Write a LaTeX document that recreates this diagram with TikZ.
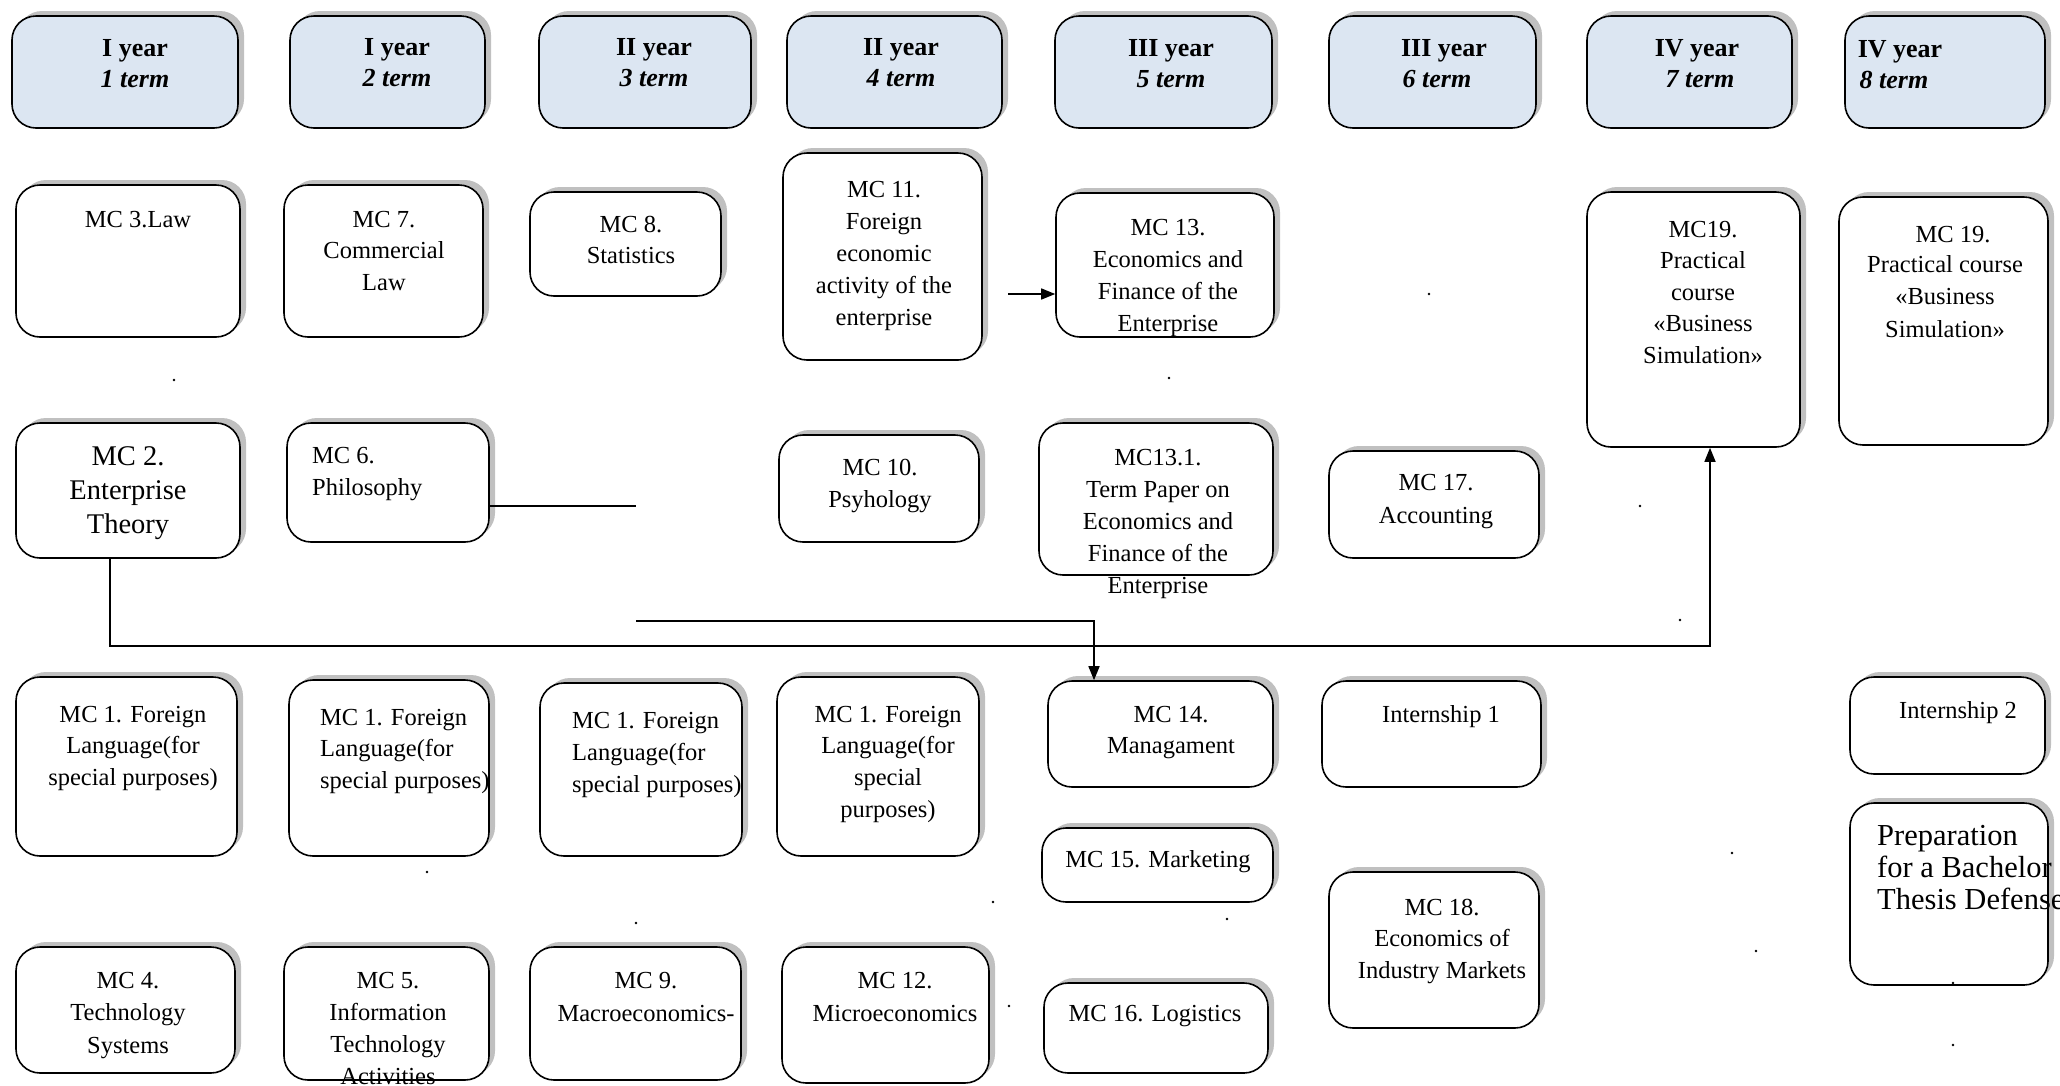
\documentclass[tikz,border=0pt]{standalone}
\usepackage{fontspec}
\setmainfont{Liberation Serif}
\usetikzlibrary{shadows,arrows.meta}
\definecolor{hdrblue}{RGB}{220,230,242}
\definecolor{shadowgray}{RGB}{192,192,192}
\newcommand\bodyfont{\fontsize{24.5}{30}\selectfont}
\newcommand\bigbodyfont{\fontsize{28.5}{34}\selectfont}
\newcommand\prepfont{\fontsize{30.5}{34}\selectfont}
\newcommand\hdrfont{\fontsize{26}{31}\selectfont\bfseries}
% box: style, name, x1, x2, y1, y2
\newcommand\bx[6]{\node[#1, minimum width={#4-#3}, minimum height={#6-#5}] (#2) at ({(#3+#4)/2},{(#5+#6)/2}) {};}
% text lines: [style], name, anchor, x, first baseline y, spacing, list
\newcommand\txtlines[7][]{\foreach \l [count=\i] in {#7} {\node[lbl,#1,anchor=#3] (#2-\i) at (#4,{#5+(\i-1)*#6}) {\l};}}
\begin{document}
\begin{tikzpicture}[x=1pt,y=-1pt,
  box/.style={draw=black, line width=1.6pt, rounded corners=24pt, fill=white, inner sep=0pt,
    drop shadow={shadow xshift=6pt, shadow yshift=5pt, fill=shadowgray, opacity=1}},
  hbox/.style={box, fill=hdrblue},
  lbl/.style={font=\bodyfont, inner sep=0pt},
  hlbl/.style={font=\hdrfont, inner sep=0pt, anchor=base},
  conn/.style={line width=1.5pt},
  arr/.style={conn, -{Triangle[length=14pt,width=11pt]}}]
\useasboundingbox[fill=white] (0,0) rectangle (2060,1085);

% header boxes
\bx{hbox}{h1}{12}{238}{16}{128}
\bx{hbox}{h2}{290}{485}{16}{128}
\bx{hbox}{h3}{539}{751}{16}{128}
\bx{hbox}{h4}{787}{1002}{16}{128}
\bx{hbox}{h5}{1055}{1272}{16}{128}
\bx{hbox}{h6}{1329}{1536}{16}{128}
\bx{hbox}{h7}{1587}{1792}{16}{128}
\bx{hbox}{h8}{1845}{2045}{16}{128}

% course boxes
\bx{box}{mc3}{16}{240}{185}{337}
\bx{box}{mc7}{284}{483}{185}{337}
\bx{box}{mc8}{530}{721}{192}{296}
\bx{box}{mc11}{783}{982}{153}{360}
\bx{box}{mc13}{1056}{1274}{193}{337}
\bx{box}{mc19a}{1587}{1800}{192}{447}
\bx{box}{mc19b}{1839}{2048}{197}{445}
\bx{box}{mc2}{16}{240}{423}{558}
\bx{box}{mc6}{287}{489}{423}{542}
\bx{box}{mc10}{779}{979}{435}{542}
\bx{box}{mc131}{1039}{1273}{423}{575}
\bx{box}{mc17}{1329}{1539}{451}{558}
\bx{box}{mc1a}{16}{237}{677}{856}
\bx{box}{mc1b}{289}{489}{680}{856}
\bx{box}{mc1c}{540}{742}{683}{856}
\bx{box}{mc1d}{777}{979}{677}{856}
\bx{box}{mc14}{1048}{1273}{681}{787}
\bx{box}{int1}{1322}{1541}{681}{787}
\bx{box}{mc15}{1042}{1273}{828}{902}
\bx{box}{mc16}{1044}{1268}{983}{1073}
\bx{box}{mc18}{1329}{1539}{872}{1028}
\bx{box}{int2}{1850}{2045}{677}{774}
\bx{box}{prep}{1850}{2048}{803}{985}
\bx{box}{mc4}{16}{235}{947}{1073}
\bx{box}{mc5}{284}{489}{947}{1080}
\bx{box}{mc9}{530}{741}{947}{1080}
\bx{box}{mc12}{782}{989}{947}{1083}

% connectors
\coordinate (c1) at (1008,294);
\draw[arr] (c1) -- (c1 -| mc13.west);
\coordinate (c2) at (636,506);
\draw[conn] (c2 -| mc6.east) -- (c2);
\coordinate (c3) at (636,621);
\coordinate (c4) at (1094,621);
\draw[arr] (c3) -- (c4) -- (c4 |- mc14.north);
\coordinate (c5) at (110,646);
\coordinate (c6) at (1710,646);
\draw[arr] (c5 |- mc2.south) -- (c5) -- (c6) -- (c6 |- mc19a.south);

% header texts
\node[hlbl] (h1a) at (135,56) {I year};
\node[hlbl, font=\hdrfont\itshape] (h1b) at (135,87) {1 term};
\node[hlbl] (h2a) at (397,55) {I year};
\node[hlbl, font=\hdrfont\itshape] (h2b) at (397,86) {2 term};
\node[hlbl] (h3a) at (654,55) {II year};
\node[hlbl, font=\hdrfont\itshape] (h3b) at (654,86) {3 term};
\node[hlbl] (h4a) at (901,55) {II year};
\node[hlbl, font=\hdrfont\itshape] (h4b) at (901,86) {4 term};
\node[hlbl] (h5a) at (1171,56) {III year};
\node[hlbl, font=\hdrfont\itshape] (h5b) at (1171,87) {5 term};
\node[hlbl] (h6a) at (1444,56) {III year};
\node[hlbl, font=\hdrfont\itshape] (h6b) at (1437,87) {6 term};
\node[hlbl] (h7a) at (1697,56) {IV year};
\node[hlbl, font=\hdrfont\itshape] (h7b) at (1700,87) {7 term};
\node[hlbl] (h8a) at (1900,57) {IV year};
\node[hlbl, font=\hdrfont\itshape] (h8b) at (1894,88) {8 term};

% course texts
\txtlines{t3}{base}{138}{227}{31.7}{MC 3.Law}
\txtlines{t7}{base}{384}{227}{31.7}{MC 7., Commercial, Law}
\txtlines{t8}{base}{631}{232}{31}{MC 8., Statistics}
\txtlines{t11}{base}{884}{197}{32}{MC 11., Foreign, economic, activity of the, enterprise}
\txtlines{t13}{base}{1168}{235}{32}{MC 13., Economics and, Finance of the, Enterprise}
\txtlines{t19a}{base}{1703}{237}{31.5}{MC19., Practical, course, «Business, Simulation»}
\node[lbl, anchor=base] (t19b-1) at (1953,242) {MC 19.};
\node[lbl, anchor=base west] (t19b-2) at (1867,272) {Practical course};
\node[lbl, anchor=base] (t19b-3) at (1945,304) {«Business};
\node[lbl, anchor=base] (t19b-4) at (1945,337) {Simulation»};
\txtlines[font=\bigbodyfont]{t2}{base}{128}{465}{34}{MC 2., Enterprise, Theory}
\txtlines{t6}{base west}{312}{463}{32}{MC 6., Philosophy}
\txtlines{t10}{base}{880}{475}{32}{MC 10., Psyhology}
\txtlines{t131}{base}{1158}{465}{32}{MC13.1., Term Paper on, Economics and, Finance of the, Enterprise}
\txtlines{t17}{base}{1436}{490}{33}{MC 17., Accounting}
\txtlines{t1a}{base}{133}{722}{31.5}{MC 1. Foreign, Language(for, special purposes)}
\txtlines{t1b}{base west}{320}{725}{31.5}{MC 1. Foreign, Language(for, special purposes)}
\txtlines{t1c}{base west}{572}{728}{32}{MC 1. Foreign, Language(for, special purposes)}
\txtlines{t1d}{base}{888}{722}{31.7}{MC 1. Foreign, Language(for, special, purposes)}
\txtlines{t4}{base}{128}{988}{32.5}{MC 4., Technology, Systems}
\txtlines{t5}{base}{388}{988}{32}{MC 5., Information, Technology, Activities}
\txtlines{t9}{base}{646}{988}{33}{MC 9., Macroeconomics-}
\txtlines{t12}{base}{895}{988}{33}{MC 12., Microeconomics}
\txtlines{t14}{base}{1171}{722}{31}{MC 14., Managament}
\txtlines{ti1}{base}{1441}{722}{31}{Internship 1}
\txtlines{t15}{base}{1158}{867}{31}{MC 15. Marketing}
\txtlines{t16}{base}{1155}{1021}{31}{MC 16. Logistics}
\txtlines{t18}{base}{1442}{915}{31.5}{MC 18., Economics of, Industry Markets}
\txtlines{ti2}{base}{1958}{718}{31}{Internship 2}
\txtlines[font=\prepfont]{tp}{base west}{1877}{845}{32}{Preparation, for a Bachelor, Thesis Defense}

% stray dots
\foreach \dx/\dy in {174/380, 1169/378, 1429/294, 1640/506, 1680/620, 427/872, 636/923,
  993/902, 1227/919, 1732/853, 1756/951, 1953/983, 1953/1045, 1009/1006}
  \fill (\dx,\dy) circle (1.4pt);
\end{tikzpicture}
\end{document}
